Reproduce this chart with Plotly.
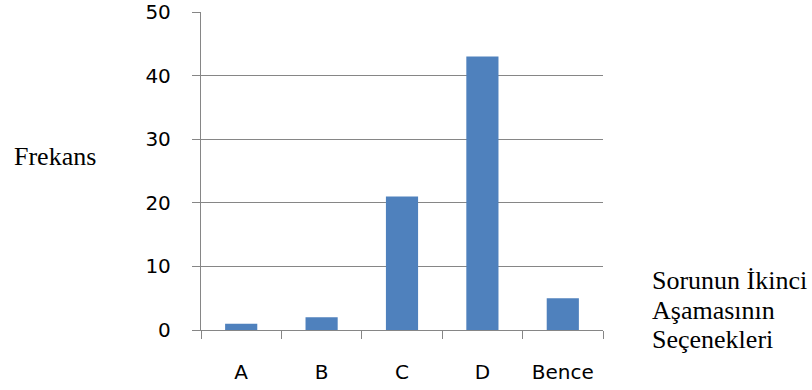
import plotly.graph_objects as go

categories = ["A", "B", "C", "D", "Bence"]
values = [1, 2, 21, 43, 5]
y_ticks = [0, 10, 20, 30, 40, 50]
y_title = "Frekans"
x_title_lines = ["Sorunun İkinci", "Aşamasının", "Seçenekleri"]

W, H = 812, 390
L, R, T, B = 201, 209, 12, 60
pw, ph = W - L - R, H - T - B

def px_x(px):
    return (px - L) / pw

def px_y(py):
    return (H - B - py) / ph

grid = "#868686"
sans = "DejaVu Sans"
serif = "Liberation Serif"

fig = go.Figure(go.Bar(x=categories, y=values, marker=dict(color="#4f81bd", line=dict(width=0)),
                       width=0.4))

fig.update_layout(
    width=W, height=H, margin=dict(l=L, r=R, t=T, b=B, pad=0, autoexpand=False),
    paper_bgcolor="white", plot_bgcolor="white", showlegend=False,
    font=dict(family=sans, size=20, color="black"),
)
fig.update_xaxes(type="category", showline=True, linecolor=grid, linewidth=1.3, automargin=False,
                 ticks="outside", ticklen=8, tickcolor=grid, tickwidth=1.3, tickson="boundaries",
                 showgrid=False, ticklabelstandoff=24, tickfont=dict(family=sans, size=20))
fig.update_yaxes(range=[0, 50], tickvals=y_ticks, showgrid=True, gridcolor=grid, gridwidth=1.3,
                 showline=True, linecolor=grid, linewidth=1.3, zeroline=False, automargin=False,
                 ticks="outside", ticklen=8, tickcolor=grid, tickwidth=1.3,
                 ticklabelstandoff=17, tickfont=dict(family=sans, size=20))

fig.add_annotation(text=y_title, xref="paper", yref="paper", x=px_x(12), y=px_y(156),
                   xanchor="left", yanchor="middle", showarrow=False,
                   font=dict(family=serif, size=26, color="black"))
for i, (line, cy) in enumerate(zip(x_title_lines, [280, 310, 339])):
    fig.add_annotation(text=line, xref="paper", yref="paper", x=px_x(650), y=px_y(cy),
                       xanchor="left", yanchor="middle", showarrow=False,
                       font=dict(family=serif, size=26, color="black"))

fig.write_html("out.html", config={"displayModeBar": False},
               post_script="document.body.style.margin='0';document.body.style.overflow='hidden';")
